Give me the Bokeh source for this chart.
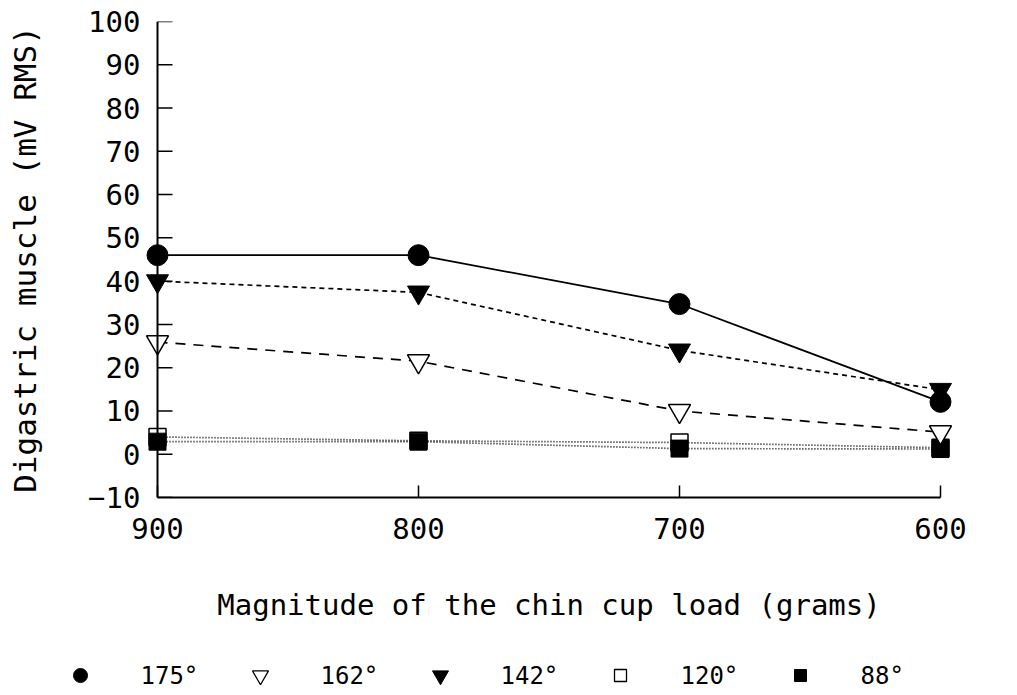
from bokeh.plotting import figure
from bokeh.models import Range1d, FixedTicker, Span
from bokeh.core.properties import value
from bokeh.embed import file_html
from bokeh.resources import INLINE

# ---- data ----
loads = [900, 800, 700, 600]
s175 = [46.0, 46.0, 34.7, 12.1]
s162 = [25.9, 21.5, 10.0, 5.1]
s142 = [40.0, 37.4, 24.0, 14.9]
s120 = [4.0, 3.1, 2.7, 1.5]
s88 = [2.9, 2.9, 1.3, 1.2]
series_labels = ["175°", "162°", "142°", "120°", "88°"]
y_ticks = [-10, 0, 10, 20, 30, 40, 50, 60, 70, 80, 90, 100]
y_tick_labels = {-10: "\u221210"}
x_ticks = [900, 800, 700, 600]
x_title = "Magnitude of the chin cup load (grams)"
y_title = "Digastric muscle (mV RMS)"

FONT = "DejaVu Sans Mono"
X_LO, X_HI = min(x_ticks), max(x_ticks)
PAD = 4.6  # small range padding so edge markers are not clipped

p = figure(width=1017, height=640, output_backend="svg", toolbar_location=None,
           x_range=Range1d(X_HI + PAD, X_LO - PAD),
           y_range=Range1d(min(y_ticks), max(y_ticks)),
           min_border_left=145, min_border_right=65, min_border_top=21,
           min_border_bottom=143)
p.outline_line_color = None
p.xgrid.visible = False
p.ygrid.visible = False
p.background_fill_color = "white"
p.border_fill_color = "white"

# y axis: labels from the axis, line and ticks drawn at x = 900
ya = p.yaxis[0]
ya.ticker = FixedTicker(ticks=y_ticks, minor_ticks=[])
ya.major_label_overrides = y_tick_labels
ya.axis_line_color = None
ya.major_tick_line_color = None
ya.major_tick_in = 0
ya.major_tick_out = 0
ya.major_label_standoff = 5
ya.major_label_text_font = FONT
ya.major_label_text_font_size = "29px"
ya.major_label_text_color = "black"
ya.axis_label = y_title
ya.axis_label_text_font = FONT
ya.axis_label_text_font_size = "31px"
ya.axis_label_text_font_style = "normal"
ya.axis_label_text_color = "black"
ya.axis_label_standoff = 42

p.add_layout(Span(location=X_HI, dimension="height", line_color="black", line_width=2))
p.ray(x=[X_HI] * len(y_ticks), y=y_ticks, length=15, length_units="screen",
      angle=0, line_color="black", line_width=1.5)

xa = p.xaxis[0]
xa.bounds = (X_LO, X_HI)
xa.ticker = FixedTicker(ticks=x_ticks, minor_ticks=[])
xa.major_tick_in = 12
xa.major_tick_out = 0
xa.major_label_standoff = 20
xa.axis_line_width = 2
xa.major_tick_line_width = 1.5
xa.major_label_text_font = FONT
xa.major_label_text_font_size = "29px"
xa.major_label_text_color = "black"
xa.axis_label = x_title
xa.axis_label_text_font = FONT
xa.axis_label_text_font_size = "29px"
xa.axis_label_text_font_style = "normal"
xa.axis_label_text_color = "black"
xa.axis_label_standoff = 46

# lines
p.line(loads, s175, line_color="black", line_width=1.7)
p.line(loads, s162, line_color="black", line_width=1.7, line_dash="10 8")
p.line(loads, s142, line_color="black", line_width=1.7, line_dash="5 4")
p.line(loads, s120, line_color="black", line_width=1.7, line_dash="1 2")
p.line(loads, s88, line_color="black", line_width=1.7, line_dash="1 2")

# markers: (series, marker, fill, size, legend size)
styles = [
    (s120, "square", "white", 17, 12),
    (s88, "square", "black", 17, 12),
    (s162, "inverted_triangle", "white", 22, 16),
    (s142, "inverted_triangle", "black", 22, 16),
    (s175, "circle", "black", 21, 14),
]
for vals, mk, fill, sz, _ in styles:
    p.scatter(loads, vals, marker=mk, size=sz, fill_color=fill,
              line_color="black", line_width=1.5 if fill == "white" else 1)

# ---- legend strip below the chart (separate root, pixel coordinates) ----
leg = figure(width=1017, height=55, output_backend="svg", toolbar_location=None,
             x_range=Range1d(0, 1017), y_range=Range1d(0, 55),
             min_border=0)
leg.axis.visible = False
leg.grid.visible = False
leg.outline_line_color = None
leg.border_fill_color = "white"
leg.background_fill_color = "white"

order = [4, 2, 3, 0, 1]  # legend order: 175, 162, 142, 120, 88
x0, pitch, yc = 80, 180, 20
for i, k in enumerate(order):
    vals, mk, fill, _, lsz = styles[k]
    leg.scatter([x0 + i * pitch], [yc], marker=mk, size=lsz, fill_color=fill,
                line_color="black", line_width=1.3 if fill == "white" else 1)
    leg.text([x0 + i * pitch + 60], [yc], text=[series_labels[i]],
             text_font=value(FONT), text_font_size="24px",
             text_baseline="middle", text_align="left", text_color="black")

open("out.html", "w").write(file_html([p, leg], INLINE))
